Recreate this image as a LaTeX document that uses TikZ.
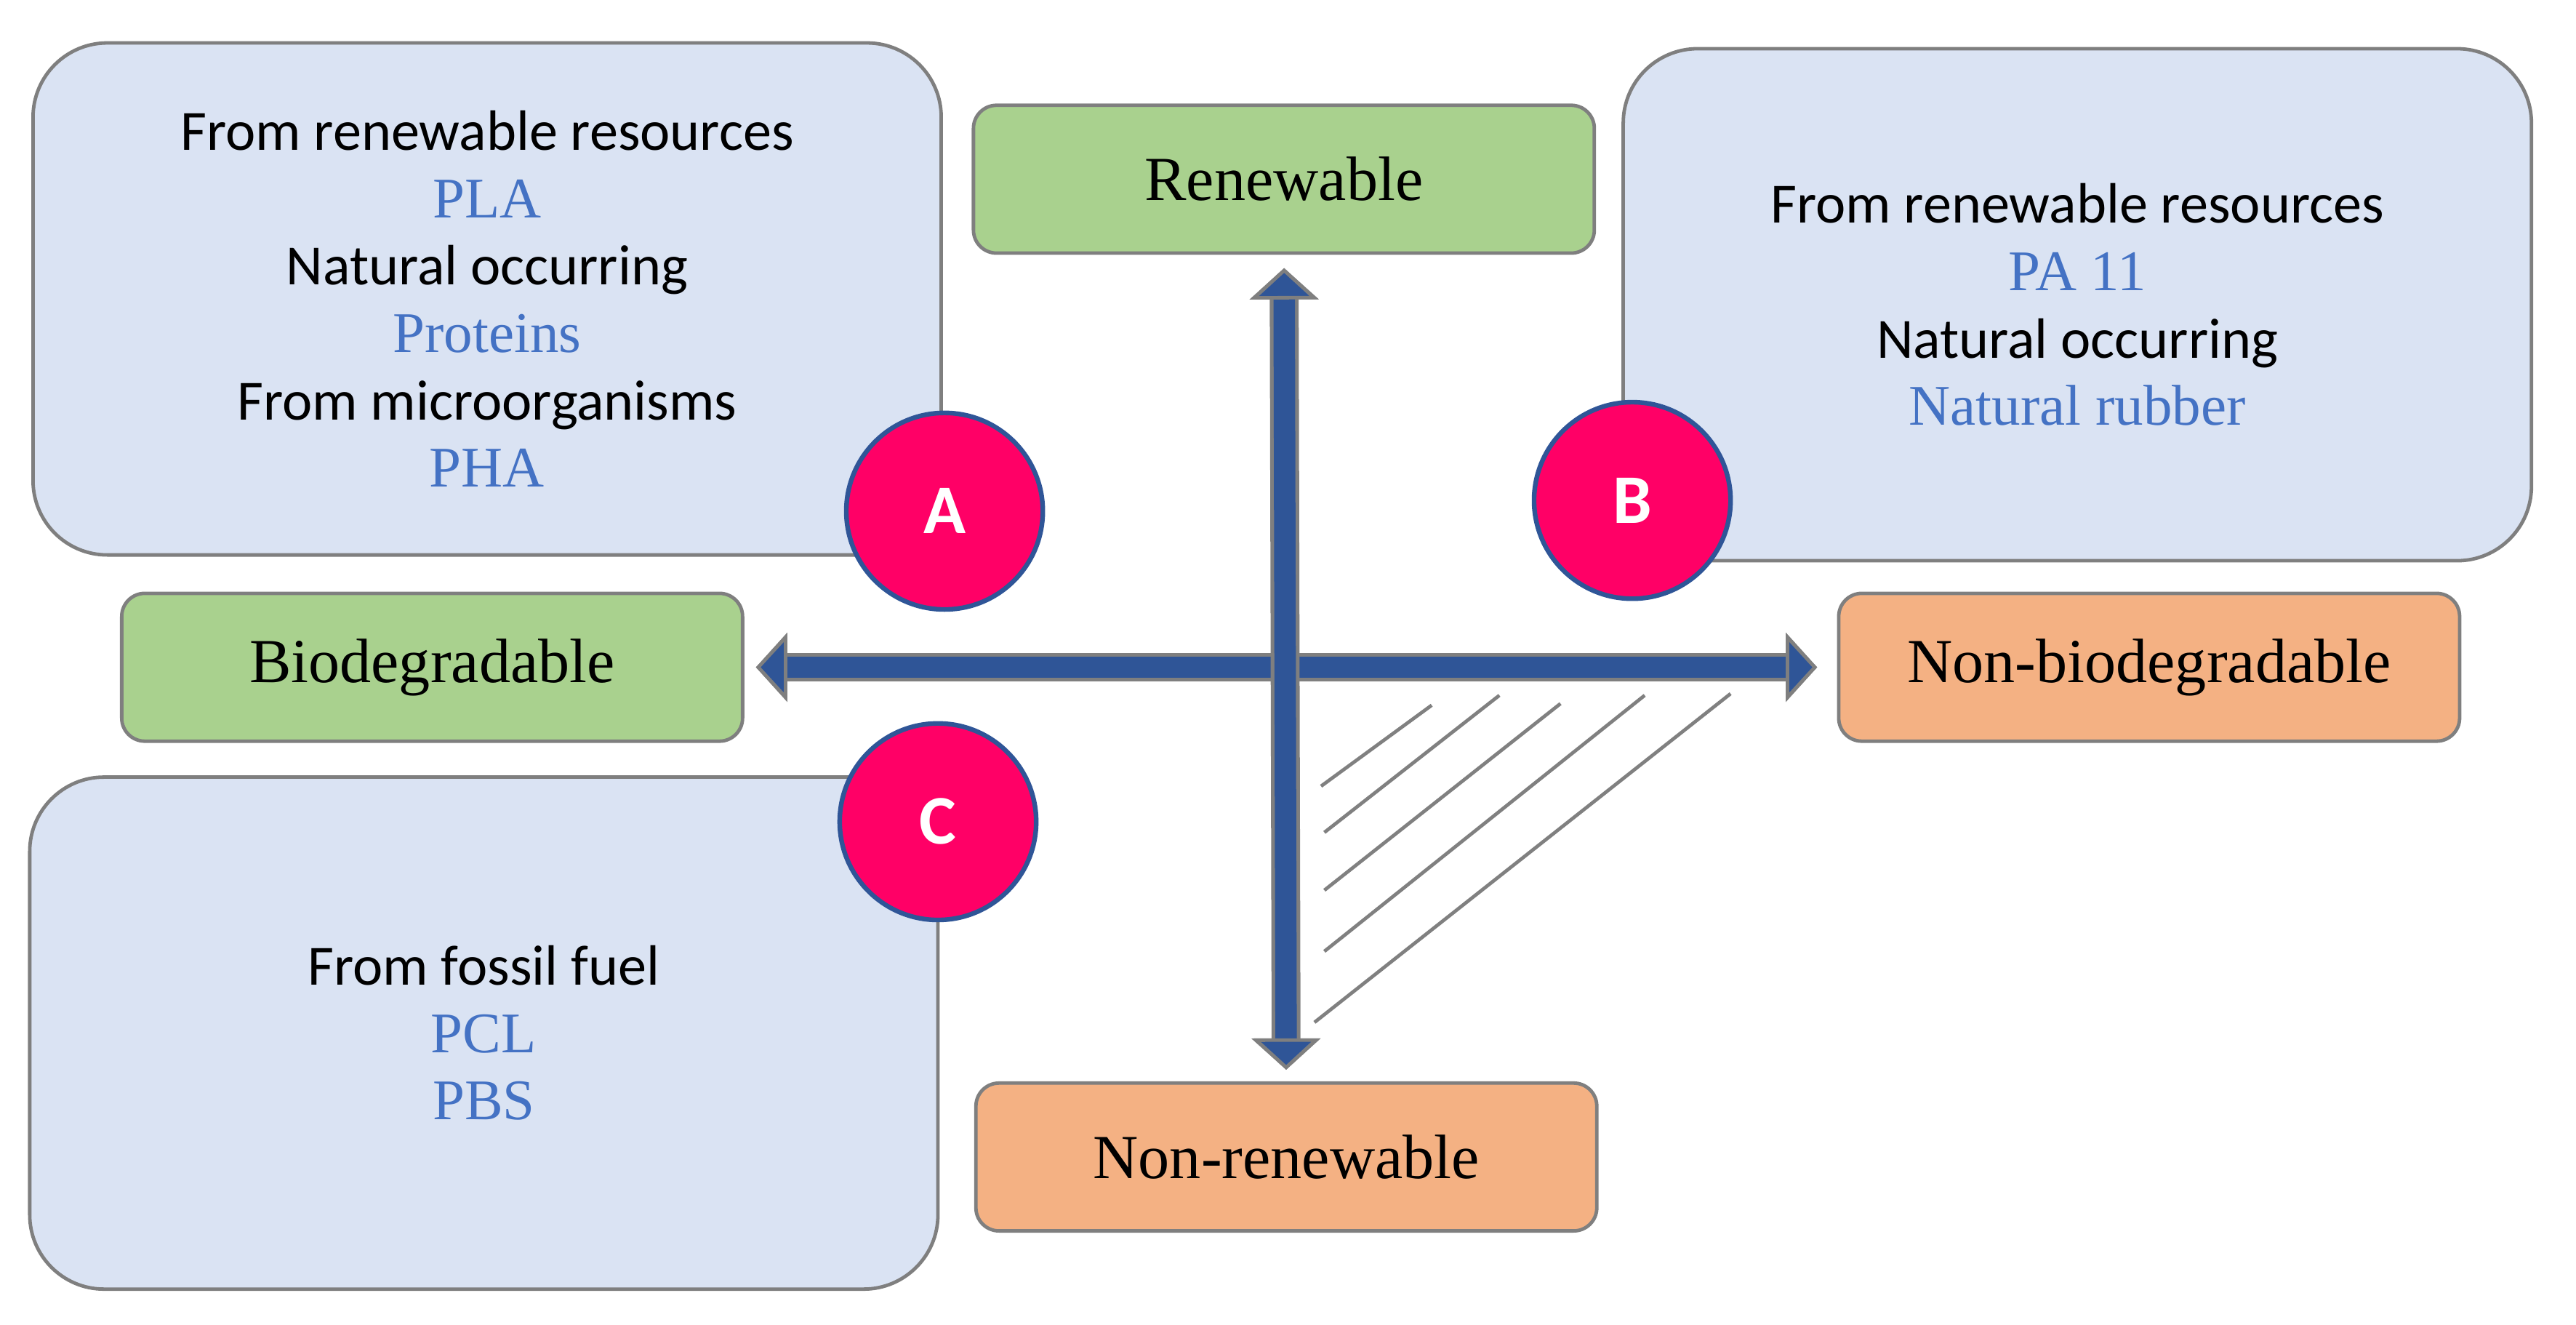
\documentclass[tikz,border=0pt]{standalone}
\usepackage{fontspec}
\setmainfont{Carlito}
\newfontfamily\serifface{Liberation Serif}
\usepackage{tikz}
\usetikzlibrary{arrows.meta}

\definecolor{boxblue}{HTML}{DAE3F3}
\definecolor{boxgray}{HTML}{7F7F7F}
\definecolor{lightgreen}{HTML}{A9D18E}
\definecolor{lightorange}{HTML}{F4B183}
\definecolor{badgered}{HTML}{FF0066}
\definecolor{axisblue}{HTML}{2F5597}
\definecolor{polyblue}{HTML}{4472C4}

\newcommand{\poly}[1]{{\fontsize{9.9}{11.6}\selectfont\serifface\color{polyblue}#1}}

\begin{document}
\begin{tikzpicture}[line join=round]
	\fontsize{9.8}{11.6}\selectfont
	\def \upper{6.21cm}
	\def \renrow{6.935cm}
	\def \midrow{3.98cm}
	\def \lower{1.765cm}
	\def \nonrow{1.015cm}

	\tikzstyle{q-box}=[rectangle,rounded corners=4.5mm,draw=boxgray,fill=boxblue,line width=0.6pt,minimum width=5.50cm,minimum height=3.10cm,align=center,inner sep=0pt]
	\tikzstyle{g-box}=[rectangle,rounded corners=1.4mm,draw=boxgray,fill=lightgreen,line width=0.6pt,minimum width=3.76cm,minimum height=0.895cm,font=\serifface\fontsize{10.8}{13}\selectfont]
	\tikzstyle{o-box}=[g-box,fill=lightorange]
	\tikzstyle{badge}=[circle,draw=axisblue,fill=badgered,line width=0.8pt,inner sep=0pt,minimum size=1.19cm,text=white,font=\bfseries\fontsize{12}{14}\selectfont]
	\tikzstyle{axis}=[draw=axisblue,line width=1.3mm,arrows={Triangle[length=1.9mm,width=4.1mm,fill=axisblue,color=boxgray,line width=0.6pt]-Triangle[length=1.9mm,width=4.1mm,fill=axisblue,color=boxgray,line width=0.6pt]},preaction={draw=boxgray,line width=1.75mm,arrows={Triangle[length=1.9mm,width=4.1mm]-Triangle[length=1.9mm,width=4.1mm]}}]
	\tikzstyle{hatch}=[draw=gray,line width=0.6pt]

	\useasboundingbox (0,0) rectangle (15.6,8.02);

	% quadrant boxes
	\node[q-box]	(qa)	at (2.95cm,\upper)	{From renewable resources\\ \poly{PLA}\\ Natural occurring\\ \poly{Proteins}\\ From microorganisms\\ \poly{PHA}};
	\node[q-box]	(qb)	at (12.58cm,6.175cm)	{From renewable resources\\ \poly{PA 11}\\ Natural occurring\\ \poly{Natural rubber}};
	\node[q-box]	(qc)	at (2.93cm,\lower)	{From fossil fuel\\ \poly{PCL}\\ \poly{PBS}};

	% badges
	\node[badge]	(ba)	at (5.72cm,4.925cm)	{A};
	\node[badge]	(bb)	at (9.885cm,4.99cm)	{B};
	\node[badge]	(bc)	at (5.68cm,3.045cm)	{C};

	% axis labels
	\node[g-box]	(ren)	at (7.775cm,\renrow)	{Renewable};
	\node[g-box]	(bio)	at (2.617cm,\midrow)	{Biodegradable};
	\node[o-box]	(nonbio)	at (13.015cm,\midrow)	{Non-biodegradable};
	\node[o-box]	(nonren)	at (7.79cm,\nonrow)	{Non-renewable};

	% axes
	\path
		(bio)	edge[axis,shorten <=0.7mm,shorten >=1.2mm]	(nonbio)
		(ren)	edge[axis,shorten <=0.8mm,shorten >=0.7mm]	(nonren);

	% hatching
	\draw[hatch] (8.00,3.26) -- (8.67,3.75);
	\draw[hatch] (8.02,2.98) -- (9.08,3.81);
	\draw[hatch] (8.02,2.63) -- (9.45,3.76);
	\draw[hatch] (8.02,2.26) -- (9.96,3.81);
	\draw[hatch] (7.96,1.83) -- (10.48,3.82);
\end{tikzpicture}
\end{document}
